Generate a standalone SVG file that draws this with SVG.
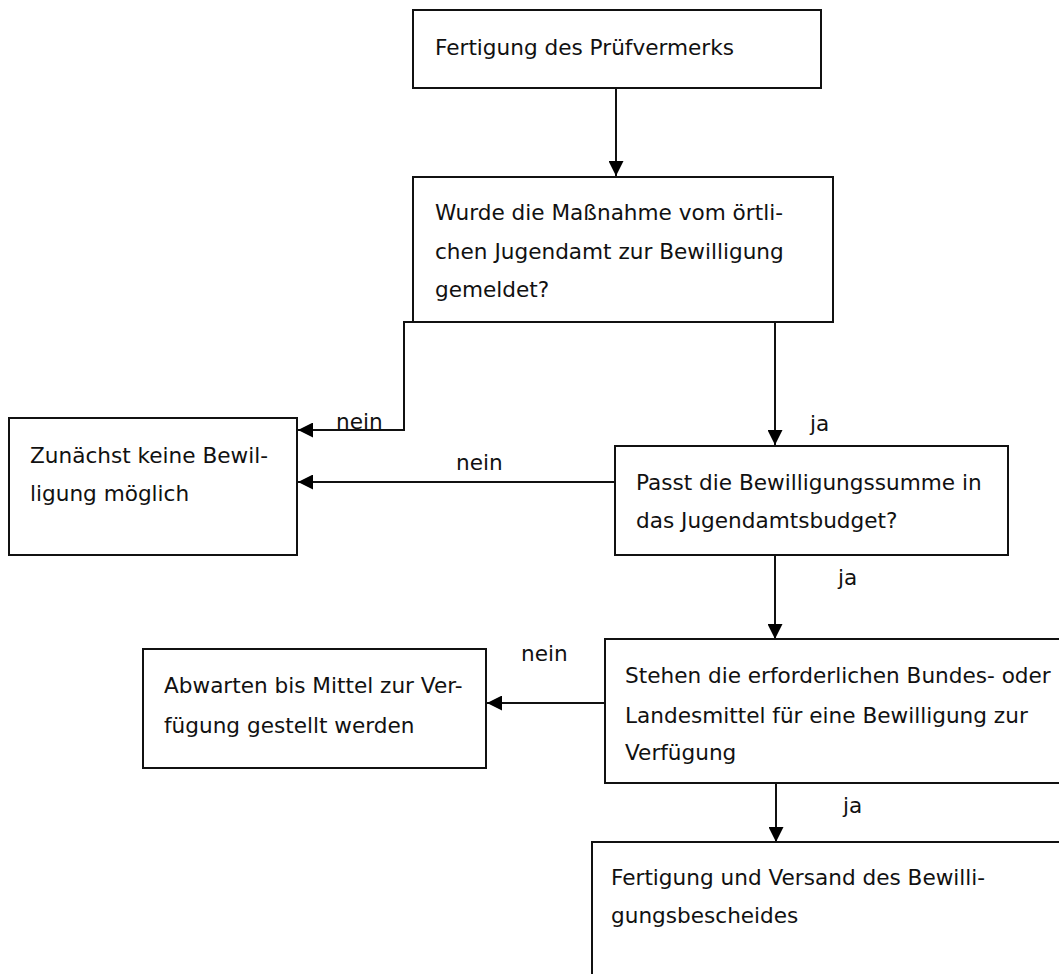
<svg xmlns="http://www.w3.org/2000/svg" width="1059" height="974" viewBox="0 0 1059 974">
<style>
.box{fill:#fff;stroke:#111;stroke-width:2}
.t{font-family:"DejaVu Sans","Verdana",sans-serif;font-size:21.6px;fill:#111}
.c{fill:none;stroke:#111;stroke-width:2}
</style>
<defs>
<marker id="ah" markerUnits="userSpaceOnUse" markerWidth="15" markerHeight="15" refX="15" refY="7.5" orient="auto" viewBox="0 0 15 15">
<path d="M0,0 L15,7.5 L0,15 Z" fill="#000"/>
</marker>
</defs>
<rect width="1059" height="974" fill="#fff"/>
<g id="connectors">
<path class="c" d="M616,88 V176" marker-end="url(#ah)"/>
<path class="c" d="M510,322 H404 V430 H298" marker-end="url(#ah)"/>
<path class="c" d="M615,482 H298" marker-end="url(#ah)"/>
<path class="c" d="M775,322 V445" marker-end="url(#ah)"/>
<path class="c" d="M775,555 V639" marker-end="url(#ah)"/>
<path class="c" d="M605,703 H487" marker-end="url(#ah)"/>
<path class="c" d="M776,783 V842" marker-end="url(#ah)"/>
<text class="t" x="336" y="429">nein</text>
<text class="t" x="456" y="470">nein</text>
<text class="t" x="810" y="431">ja</text>
<text class="t" x="838" y="585">ja</text>
<text class="t" x="521" y="661">nein</text>
<text class="t" x="843" y="813">ja</text>
</g>
<g id="n1">
<rect class="box" x="413" y="10" width="408" height="78"/>
<text class="t" x="435" y="55">Fertigung des Prüfvermerks</text>
</g>
<g id="n2">
<rect class="box" x="413" y="177" width="420" height="145"/>
<text class="t" x="435" y="220">Wurde die Maßnahme vom örtli-</text>
<text class="t" x="435" y="259">chen Jugendamt zur Bewilligung</text>
<text class="t" x="435" y="297">gemeldet?</text>
</g>
<g id="n3">
<rect class="box" x="9" y="418" width="288" height="137"/>
<text class="t" x="30" y="463">Zunächst keine Bewil-</text>
<text class="t" x="30" y="501">ligung möglich</text>
</g>
<g id="n4">
<rect class="box" x="615" y="446" width="393" height="109"/>
<text class="t" x="636" y="490">Passt die Bewilligungssumme in</text>
<text class="t" x="636" y="528">das Jugendamtsbudget?</text>
</g>
<g id="n5">
<rect class="box" x="143" y="649" width="343" height="119"/>
<text class="t" x="164" y="693">Abwarten bis Mittel zur Ver-</text>
<text class="t" x="164" y="733">fügung gestellt werden</text>
</g>
<g id="n6">
<rect class="box" x="605" y="639" width="470" height="144"/>
<text class="t" x="625" y="683">Stehen die erforderlichen Bundes- oder</text>
<text class="t" x="625" y="723">Landesmittel für eine Bewilligung zur</text>
<text class="t" x="625" y="760">Verfügung</text>
</g>
<g id="n7">
<rect class="box" x="592" y="842" width="480" height="160"/>
<text class="t" x="611" y="885">Fertigung und Versand des Bewilli-</text>
<text class="t" x="611" y="923">gungsbescheides</text>
</g>
</svg>
